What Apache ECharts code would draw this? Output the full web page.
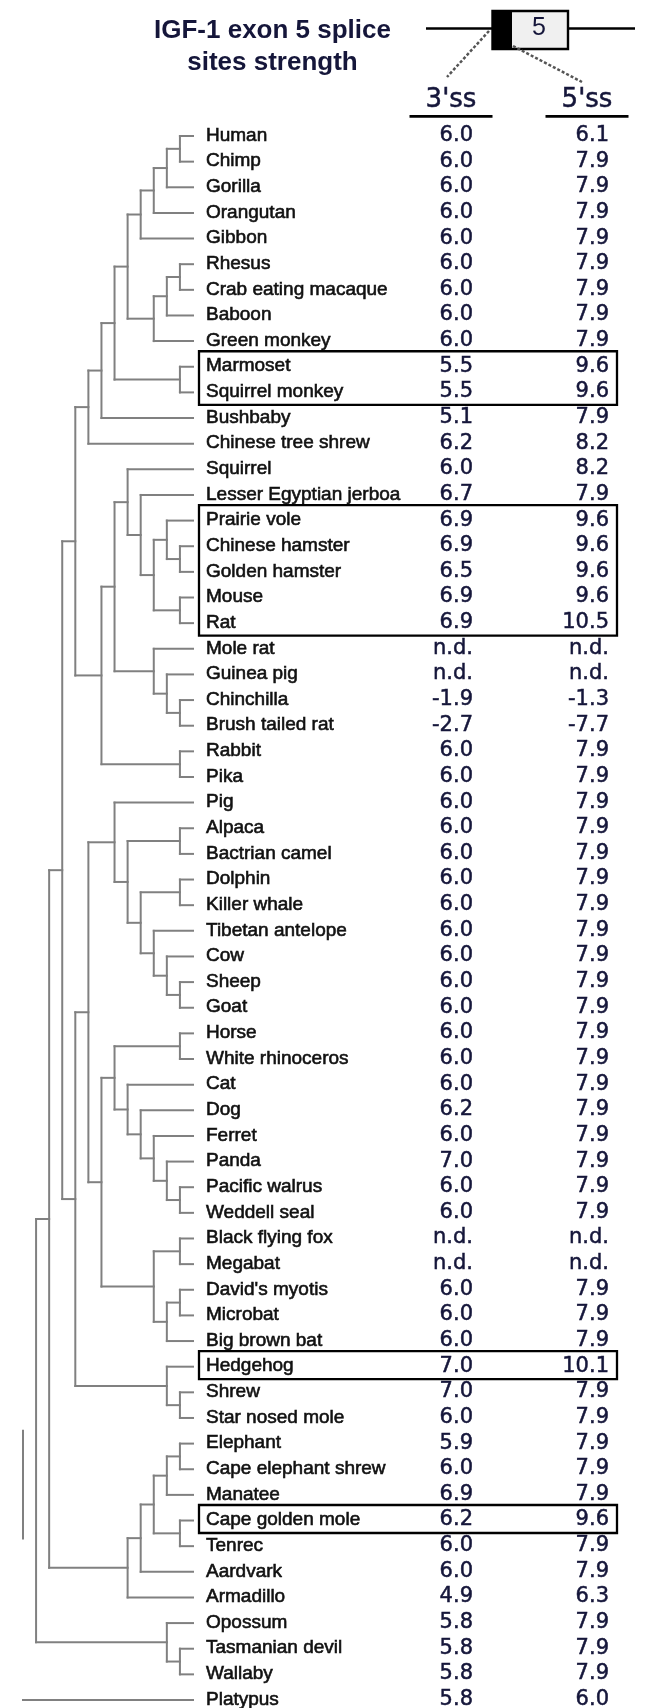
<!DOCTYPE html>
<html>
<head>
<meta charset="utf-8">
<script src="https://cdn.jsdelivr.net/npm/echarts@6/dist/echarts.min.js"></script>
<style>
  html, body { margin: 0; padding: 0; background: #ffffff; }
  #chart { width: 655px; height: 1708px; }
</style>
</head>
<body>
<div id="chart"></div>
<script>
// Species, top to bottom
const species = [
  'Human', 'Chimp', 'Gorilla', 'Orangutan', 'Gibbon', 'Rhesus', 'Crab eating macaque',
  'Baboon', 'Green monkey', 'Marmoset', 'Squirrel monkey', 'Bushbaby', 'Chinese tree shrew',
  'Squirrel', 'Lesser Egyptian jerboa', 'Prairie vole', 'Chinese hamster', 'Golden hamster',
  'Mouse', 'Rat', 'Mole rat', 'Guinea pig', 'Chinchilla', 'Brush tailed rat', 'Rabbit', 'Pika',
  'Pig', 'Alpaca', 'Bactrian camel', 'Dolphin', 'Killer whale', 'Tibetan antelope', 'Cow',
  'Sheep', 'Goat', 'Horse', 'White rhinoceros', 'Cat', 'Dog', 'Ferret', 'Panda',
  'Pacific walrus', 'Weddell seal', 'Black flying fox', 'Megabat', "David's myotis",
  'Microbat', 'Big brown bat', 'Hedgehog', 'Shrew', 'Star nosed mole', 'Elephant',
  'Cape elephant shrew', 'Manatee', 'Cape golden mole', 'Tenrec', 'Aardvark', 'Armadillo',
  'Opossum', 'Tasmanian devil', 'Wallaby', 'Platypus'
];

// 3' splice site strength (null = n.d.)
const ss3 = [
  6.0, 6.0, 6.0, 6.0, 6.0, 6.0, 6.0, 6.0, 6.0, 5.5, 5.5, 5.1, 6.2,
  6.0, 6.7, 6.9, 6.9, 6.5, 6.9, 6.9, null, null, -1.9, -2.7, 6.0, 6.0,
  6.0, 6.0, 6.0, 6.0, 6.0, 6.0, 6.0, 6.0, 6.0, 6.0, 6.0, 6.0, 6.2, 6.0, 7.0,
  6.0, 6.0, null, null, 6.0, 6.0, 6.0, 7.0, 7.0, 6.0, 5.9,
  6.0, 6.9, 6.2, 6.0, 6.0, 4.9, 5.8, 5.8, 5.8, 5.8
];

// 5' splice site strength (null = n.d.)
const ss5 = [
  6.1, 7.9, 7.9, 7.9, 7.9, 7.9, 7.9, 7.9, 7.9, 9.6, 9.6, 7.9, 8.2,
  8.2, 7.9, 9.6, 9.6, 9.6, 9.6, 10.5, null, null, -1.3, -7.7, 7.9, 7.9,
  7.9, 7.9, 7.9, 7.9, 7.9, 7.9, 7.9, 7.9, 7.9, 7.9, 7.9, 7.9, 7.9, 7.9, 7.9,
  7.9, 7.9, null, null, 7.9, 7.9, 7.9, 10.1, 7.9, 7.9, 7.9,
  7.9, 7.9, 9.6, 7.9, 7.9, 6.3, 7.9, 7.9, 7.9, 6.0
];

const columns = ["3'ss", "5'ss"];

// Cladogram topology (nested pairs / triples of species)
const tree = [
  [
    [
      [
        [
          [
            [
              [
                [[[['Human', 'Chimp'], 'Gorilla'], 'Orangutan'], 'Gibbon'],
                [[['Rhesus', 'Crab eating macaque'], 'Baboon'], 'Green monkey']
              ],
              ['Marmoset', 'Squirrel monkey']
            ],
            'Bushbaby'
          ],
          'Chinese tree shrew'
        ],
        [
          [
            ['Squirrel', ['Lesser Egyptian jerboa',
              [['Prairie vole', ['Chinese hamster', 'Golden hamster']], ['Mouse', 'Rat']]]],
            ['Mole rat', ['Guinea pig', ['Chinchilla', 'Brush tailed rat']]]
          ],
          ['Rabbit', 'Pika']
        ]
      ],
      [
        [
          ['Pig', [['Alpaca', 'Bactrian camel'],
            [['Dolphin', 'Killer whale'], ['Tibetan antelope', ['Cow', ['Sheep', 'Goat']]]]]],
          [
            [['Horse', 'White rhinoceros'],
              ['Cat', ['Dog', ['Ferret', ['Panda', ['Pacific walrus', 'Weddell seal']]]]]],
            [['Black flying fox', 'Megabat'], [["David's myotis", 'Microbat'], 'Big brown bat']]
          ]
        ],
        ['Hedgehog', ['Shrew', 'Star nosed mole']]
      ]
    ],
    [
      [[[['Elephant', 'Cape elephant shrew'], 'Manatee'], ['Cape golden mole', 'Tenrec']], 'Aardvark'],
      'Armadillo'
    ]
  ],
  ['Opossum', ['Tasmanian devil', 'Wallaby']]
];
const outgroup = 'Platypus';

// Groups of rows framed with a box
const boxedGroups = [
  ['Marmoset', 'Squirrel monkey'],
  ['Prairie vole', 'Rat'],
  ['Hedgehog', 'Hedgehog'],
  ['Cape golden mole', 'Cape golden mole']
];

// ---- cladogram layout: x = node height (steps above the tips), y = row ----
const segments = [];
function layout(node) {
  if (typeof node === 'string') return { row: species.indexOf(node), h: 0 };
  const kids = node.map(layout);
  const h = Math.max.apply(null, kids.map(k => k.h)) + 1;
  const first = kids[0].row, last = kids[kids.length - 1].row;
  segments.push([h, first, h, last]);
  kids.forEach(k => segments.push([h, k.row, k.h, k.row]));
  return { row: (first + last) / 2, h: h };
}
const ingroup = layout(tree);
// Root: the outgroup branch is drawn detached from a shortened root stem
const rootH = ingroup.h + 1;
const outRow = species.indexOf(outgroup);
segments.push([rootH, ingroup.row, rootH, ingroup.row + (outRow - ingroup.row) * 0.4]);
segments.push([rootH, outRow, 0, outRow]);

const fmt = v => (v === null ? 'n.d.' : v.toFixed(1));
const cellData = [];
const cellText = [];
species.forEach((s, i) => {
  cellData.push([0, i]); cellText.push(fmt(ss3[i]));
  cellData.push([1, i]); cellText.push(fmt(ss5[i]));
});

// ---- layout constants ----
const TREE_LEFT = 23, TREE_RIGHT = 193, TOP = 136, BOTTOM = 8;
const LABEL_GAP = 13;
const BRANCH = '#808080';
const INK = '#15163a';

const chart = echarts.init(document.getElementById('chart'), null, { renderer: 'canvas' });

chart.setOption({
  animation: false,
  backgroundColor: '#ffffff',
  grid: [
    { left: TREE_LEFT, right: 655 - TREE_RIGHT, top: TOP, bottom: BOTTOM },
    { left: 383, right: 0, top: TOP, bottom: BOTTOM }
  ],
  xAxis: [
    { gridIndex: 0, type: 'value', min: 0, max: rootH, inverse: true, show: false },
    {
      gridIndex: 1, type: 'category', data: columns, position: 'top',
      axisLine: { show: false }, axisTick: { show: false }, splitLine: { show: false },
      axisLabel: {
        interval: 0, margin: 36, verticalAlign: 'middle',
        fontFamily: 'DejaVu Sans', fontSize: 26, color: INK,
        textBorderColor: INK, textBorderWidth: 0.5
      }
    }
  ],
  yAxis: [
    { gridIndex: 0, type: 'value', min: 0, max: species.length - 1, inverse: true, show: false },
    { gridIndex: 1, type: 'value', min: 0, max: species.length - 1, inverse: true, show: false }
  ],
  graphic: [
    // title
    { type: 'text', x: 272.5, y: 31, style: { text: 'IGF-1 exon 5 splice', font: 'bold 26px "Liberation Sans"', fill: INK, align: 'center', verticalAlign: 'middle' } },
    { type: 'text', x: 272.5, y: 63, style: { text: 'sites strength', font: 'bold 26px "Liberation Sans"', fill: INK, align: 'center', verticalAlign: 'middle' } },
    // exon 5 schematic
    { type: 'line', shape: { x1: 426, y1: 28.5, x2: 493, y2: 28.5 }, style: { stroke: '#000', lineWidth: 2.7 } },
    { type: 'line', shape: { x1: 568, y1: 28.5, x2: 635, y2: 28.5 }, style: { stroke: '#000', lineWidth: 2.7 } },
    { type: 'rect', shape: { x: 492.5, y: 11, width: 75.5, height: 38 }, style: { fill: '#f0f0f0', stroke: '#000', lineWidth: 2.4 } },
    { type: 'rect', shape: { x: 492, y: 10, width: 20, height: 40 }, style: { fill: '#000' } },
    { type: 'text', x: 539, y: 28.5, style: { text: '5', font: '25px "Liberation Sans"', fill: INK, align: 'center', verticalAlign: 'middle' } },
    { type: 'line', shape: { x1: 489, y1: 31, x2: 447, y2: 77 }, style: { stroke: '#555', lineWidth: 2.5, lineDash: [3, 2] } },
    { type: 'line', shape: { x1: 513, y1: 46, x2: 582, y2: 82 }, style: { stroke: '#555', lineWidth: 2.5, lineDash: [3, 2] } }
  ],
  series: [
    {
      // branches
      type: 'custom', xAxisIndex: 0, yAxisIndex: 0, clip: false,
      data: segments, encode: { x: [0, 2], y: [1, 3] },
      renderItem: (params, api) => {
        const a = api.coord([api.value(0), api.value(1)]);
        const b = api.coord([api.value(2), api.value(3)]);
        return {
          type: 'line',
          shape: { x1: a[0], y1: a[1], x2: b[0], y2: b[1] },
          style: { stroke: BRANCH, lineWidth: 2, lineCap: 'square' }
        };
      }
    },
    {
      // species names
      type: 'custom', xAxisIndex: 0, yAxisIndex: 0, clip: false,
      data: species.map((s, i) => [0, i]), encode: { x: 0, y: 1 },
      renderItem: (params, api) => {
        const p = api.coord([0, api.value(1)]);
        return {
          type: 'text', x: p[0] + LABEL_GAP, y: p[1] - 0.5,
          style: {
            text: species[params.dataIndex], fill: '#111111',
            stroke: '#111111', lineWidth: 0.6,
            font: '19px "Liberation Sans"', align: 'left', verticalAlign: 'middle'
          }
        };
      }
    },
    {
      // splice site scores
      type: 'custom', xAxisIndex: 1, yAxisIndex: 1, clip: false,
      data: cellData, encode: { x: 0, y: 1 },
      renderItem: (params, api) => {
        const p = api.coord([api.value(0), api.value(1)]);
        return {
          type: 'text', x: p[0] + 22, y: p[1] - 0.5,
          style: {
            text: cellText[params.dataIndex], fill: INK,
            stroke: INK, lineWidth: 0.5,
            font: '21px "DejaVu Sans"', align: 'right', verticalAlign: 'middle'
          }
        };
      }
    },
    {
      // column header underlines
      type: 'custom', xAxisIndex: 1, yAxisIndex: 1, clip: false,
      data: columns.map((c, i) => [i, 0]), encode: { x: 0, y: 1 },
      renderItem: (params, api) => {
        const p = api.coord([api.value(0), 0]);
        return {
          type: 'line',
          shape: { x1: p[0] - 41.5, y1: p[1] - 19.7, x2: p[0] + 41.5, y2: p[1] - 19.7 },
          style: { stroke: '#000', lineWidth: 2.7 }
        };
      }
    },
    {
      // boxes around highlighted species
      type: 'custom', xAxisIndex: 1, yAxisIndex: 1, clip: false,
      data: boxedGroups.map(g => [0, species.indexOf(g[0]), species.indexOf(g[1])]),
      encode: { x: 0, y: [1, 2] },
      renderItem: (params, api) => {
        const top = api.coord([0, api.value(1)])[1] - 15.5;
        const bottom = api.coord([0, api.value(2)])[1] + 12.5;
        const right = api.coord([1, api.value(1)])[0] + 30;
        const left = TREE_RIGHT + LABEL_GAP - 7;
        return {
          type: 'rect',
          shape: { x: left, y: top, width: right - left, height: bottom - top },
          style: { fill: 'none', stroke: '#000', lineWidth: 2.3 }
        };
      }
    }
  ]
});
</script>
</body>
</html>
